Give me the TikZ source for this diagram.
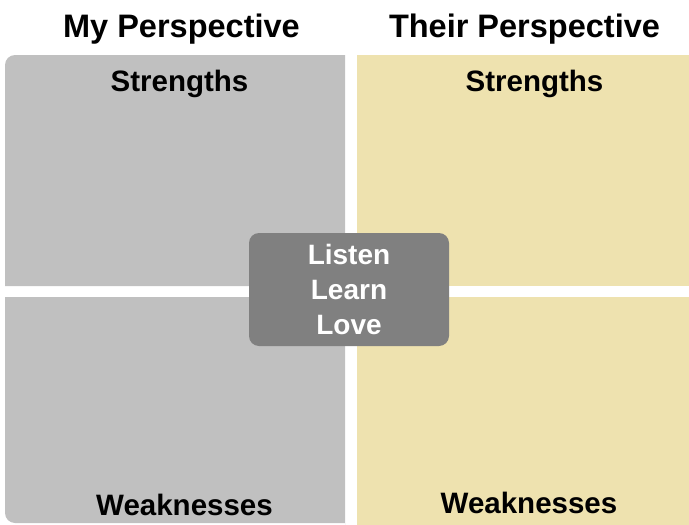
\documentclass[tikz,border=0pt]{standalone}
\usepackage{fontspec}
\setmainfont{Liberation Sans}
\definecolor{quadgray}{HTML}{C0C0C0}
\definecolor{quadtan}{HTML}{EEE2AF}
\definecolor{boxgray}{HTML}{808080}
\begin{document}
\begin{tikzpicture}[x=1pt,y=-1pt,
  title/.style={anchor=base,font=\fontsize{32.5}{38}\selectfont\bfseries,inner sep=0pt},
  label/.style={anchor=base,font=\fontsize{29.5}{35}\selectfont\bfseries,inner sep=0pt},
  centerbox/.style={fill=boxgray,rounded corners=10pt,minimum width=200pt,minimum height=113pt,
    text=white,align=center,inner sep=0pt,font=\fontsize{28}{35}\selectfont\bfseries}]
\useasboundingbox (0,0) rectangle (689,525);
% quadrants
\fill[quadgray] (5,286) [rounded corners=10pt] -- (5,55) [sharp corners] -- (345,55) -- (345,286) -- cycle;
\fill[quadgray] (345,297) -- (5,297) [rounded corners=10pt] -- (5,523) [sharp corners] -- (345,523) -- (345,525) -- cycle;
\fill[quadtan] (357,55) rectangle (689,286);
\fill[quadtan] (357,297) rectangle (689,525);
% titles
\node[title] (my) at (181.5,37.3) {My Perspective};
\node[title] (their) at (524.5,37.3) {Their Perspective};
\node[label] (s1) at (179.5,91.5) {Strengths};
\node[label] (s2) at (534.5,91.5) {Strengths};
\node[label] (w1) at (184.5,515) {Weaknesses};
\node[label] (w2) at (529,513) {Weaknesses};
% center
\node[centerbox] (center) at (349,289.5) {Listen\\Learn\\Love};
\end{tikzpicture}
\end{document}
